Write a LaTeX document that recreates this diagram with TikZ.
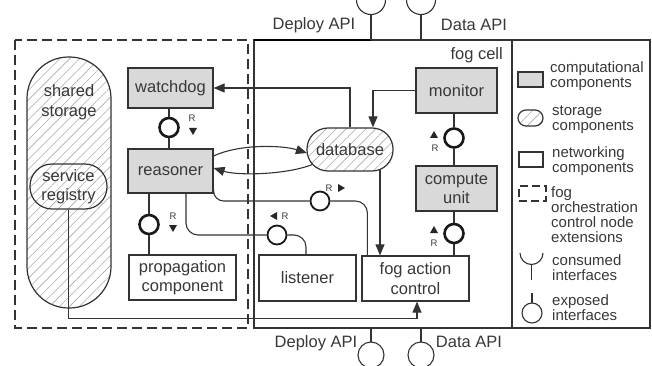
\documentclass[tikz,border=0pt]{standalone}
\usepackage{fontspec}
\setmainfont{Liberation Sans}
\usetikzlibrary{arrows.meta,patterns.meta,calc}
\definecolor{lc}{gray}{0.2}
\definecolor{tc}{gray}{0.22}
\definecolor{compfill}{gray}{0.85}
\newcommand\mainfs{\fontsize{16.5}{19.5}\selectfont}
\newcommand\legfs{\fontsize{15}{14.8}\selectfont}
\newcommand\rfs{\fontsize{9.5}{9.5}\selectfont}
\tikzset{
  every node/.style={text=tc},
  comp/.style={draw=lc, fill=compfill, line width=1.2pt, inner sep=0pt, align=center, font=\mainfs},
  net/.style={draw=lc, fill=white, line width=1.2pt, inner sep=0pt, align=center, font=\mainfs},
  stor/.style={draw=lc, line width=1.2pt, preaction={fill=white}, pattern={Lines[angle=45,distance=7pt,line width=0.6pt]}, pattern color=gray!65, inner sep=0pt, align=center, font=\mainfs},
  port/.style={circle, draw=black!90, fill=white, line width=2.6pt, minimum size=19pt, inner sep=0pt},
  portthin/.style={circle, draw=black!90, fill=white, line width=1.8pt, minimum size=19pt, inner sep=0pt},
  conn/.style={draw=lc, line width=1.1pt},
  arr/.style={conn, -{Triangle[length=11pt,width=9pt]}},
  leg/.style={font=\legfs, align=left, anchor=west, inner sep=0pt},
  lbl/.style={font=\mainfs, inner sep=0pt},
  rl/.style={font=\rfs, inner sep=0pt}
}
\begin{document}
\begin{tikzpicture}[x=1pt,y=-1pt]
\useasboundingbox (0,0) rectangle (652,366);
% frames
\draw[lc, line width=1.5pt, dash pattern=on 10pt off 5pt] (15,40) rectangle (248,328);
\draw[lc, line width=1.2pt] (254,40) rectangle (650,328);
\draw[lc, line width=1.2pt] (512,40) -- (512,328);
\draw[black, line width=2.2pt] (254,40) -- (371,40);
\node[font=\mainfs, anchor=east, inner sep=0pt] (fogcell) at (503,55) {fog cell};

% storage
\node[stor, minimum width=84pt, minimum height=251pt, rounded corners=41.5pt] (shared) at (69,182.5) {};
\node[lbl, align=center] (sharedtext) at (69,102) {shared\\storage};
\node[stor, minimum width=77pt, minimum height=45pt, rounded corners=22pt] (registry) at (68.5,186.5) {service\\registry};
\node[stor, minimum width=86pt, minimum height=43pt, rounded corners=21pt] (database) at (350,149.5) {database};

% components
\node[comp, minimum width=85pt, minimum height=40pt] (watchdog) at (170.5,88) {watchdog};
\node[comp, minimum width=85pt, minimum height=44pt] (reasoner) at (170.5,171) {reasoner};
\node[net, minimum width=107pt, minimum height=45pt] (propagation) at (182.5,277.5) {propagation\\component};
\node[net, minimum width=97pt, minimum height=46pt] (listener) at (307.5,278) {listener};
\node[net, minimum width=107pt, minimum height=45pt] (fac) at (415.5,278.5) {fog action\\control};
\node[comp, minimum width=81pt, minimum height=45pt] (monitor) at (456.5,90.5) {monitor};
\node[comp, minimum width=81pt, minimum height=45pt] (compute) at (456.5,188.5) {compute\\unit};

% ports
\node[port] (p1) at (169,127.5) {};
\node[port] (p2) at (149,224.5) {};
\node[portthin] (p3) at (277,235) {};
\node[portthin] (p4) at (320,201) {};
\node[port] (p5) at (454,138) {};
\node[port] (p6) at (454,233.5) {};

% connectors through ports
\draw[conn] (watchdog.south -| p1) -- (p1) -- (reasoner.north -| p1);
\draw[conn] (reasoner.south -| p2) -- (p2) -- (propagation.north -| p2);
\draw[conn, rounded corners=12pt] ($(reasoner.south)+(15.5,0)$) |- (p3);
\draw[conn, rounded corners=12pt] (p3) -| ($(listener.north)+(-1.5,0)$);
\draw[conn, rounded corners=10pt] ($(reasoner.south east)+(0,-4)$) |- (p4);
\draw[conn, rounded corners=12pt] (p4) -| ($(fac.north west)+(6,0)$);
\draw[conn] (monitor.south -| p5) -- (p5) -- (compute.north -| p5);
\draw[conn] (compute.south -| p6) -- (p6) -- (fac.north -| p6);

% arrows
\draw[arr] ($(reasoner.east)+(0,-15)$) .. controls +(25,-12) and +(-25,-8) .. ($(database.west)+(0.5,3.5)$);
\draw[arr] ($(database.west)+(6,15)$) .. controls +(-25,10) and +(25,8) .. ($(reasoner.east)+(0,-3)$);
\draw[arr] (database.north) |- (watchdog.east);
\draw[arr] (monitor.west) -| ($(database.north)+(23,0)$);
\draw[arr] ($(database.south)+(30,-2)$) -- ($(fac.north)+(-35.5,0)$);
\draw[arr] (registry.south) -- ++(0,109) -| ($(fac.south)+(1.5,0)$);

% R labels and direction triangles
\node[rl] (r1) at (192,118) {R};
\fill[black!85] (189,128) -- (197,128) -- (193,135) -- cycle;
\node[rl] (r2) at (173,216) {R};
\fill[black!85] (169,225) -- (177,225) -- (173,232) -- cycle;
\node[rl] (r3) at (285,216) {R};
\fill[black!85] (277,212) -- (277,220) -- (270,216) -- cycle;
\node[rl] (r4) at (329,188) {R};
\fill[black!85] (338,184) -- (338,192) -- (345,188) -- cycle;
\node[rl] (r5) at (435,148) {R};
\fill[black!85] (430,138) -- (438,138) -- (434,131) -- cycle;
\node[rl] (r6) at (434,243) {R};
\fill[black!85] (430,233) -- (438,233) -- (434,226) -- cycle;

% interfaces top
\coordinate (dtop) at (371,40);
\coordinate (atop) at (421,40);
\draw[conn] (356.5,0) arc[start angle=180,end angle=0,radius=14.5];
\draw[conn] (dtop) -- (371,14.5);
\draw[conn] (406.5,0) arc[start angle=180,end angle=0,radius=14.5];
\draw[conn] (atop) -- (421,14.5);
\node[lbl] (deploytop) at (314,25) {Deploy API};
\node[lbl] (datatop) at (474,25) {Data API};
% interfaces bottom
\coordinate (dbot) at (371,328);
\coordinate (abot) at (421,328);
\draw[conn] (dbot) -- (371,342);
\draw[conn] (371,355) circle[radius=13];
\draw[conn] (abot) -- (421,342);
\draw[conn] (421,355) circle[radius=13];
\node[lbl] (deploybot) at (316,343) {Deploy API};
\node[lbl] (databot) at (469,342) {Data API};

% legend
\node[comp, minimum width=25pt, minimum height=15pt] (lg1) at (530.5,79.5) {};
\node[leg] (lt1) at (550,76) {computational\\components};
\node[stor, minimum width=25pt, minimum height=16pt, rounded corners=8pt] (lg2) at (530.5,118) {};
\node[leg] (lt2) at (552,120) {storage\\components};
\node[net, minimum width=24pt, minimum height=15pt] (lg3) at (531,159.5) {};
\node[leg] (lt3) at (552,161) {networking\\components};
\node[draw=lc, line width=1.2pt, dash pattern=on 8pt off 4pt, minimum width=27pt, minimum height=15pt, inner sep=0pt] (lg4) at (532.5,193.5) {};
\node[leg] (lt4) at (551,214.5) {fog\\orchestration\\control node\\extensions};
\draw[conn] (520,253) arc[start angle=180,end angle=0,radius=11.5];
\draw[conn] (531.5,264.5) -- (531.5,280);
\node[leg] (lt5) at (552,268) {consumed\\interfaces};
\draw[conn] (532,293) -- (532,303);
\draw[conn] (532,313) circle[radius=10];
\node[leg] (lt6) at (552,308) {exposed\\interfaces};
\end{tikzpicture}
\end{document}
